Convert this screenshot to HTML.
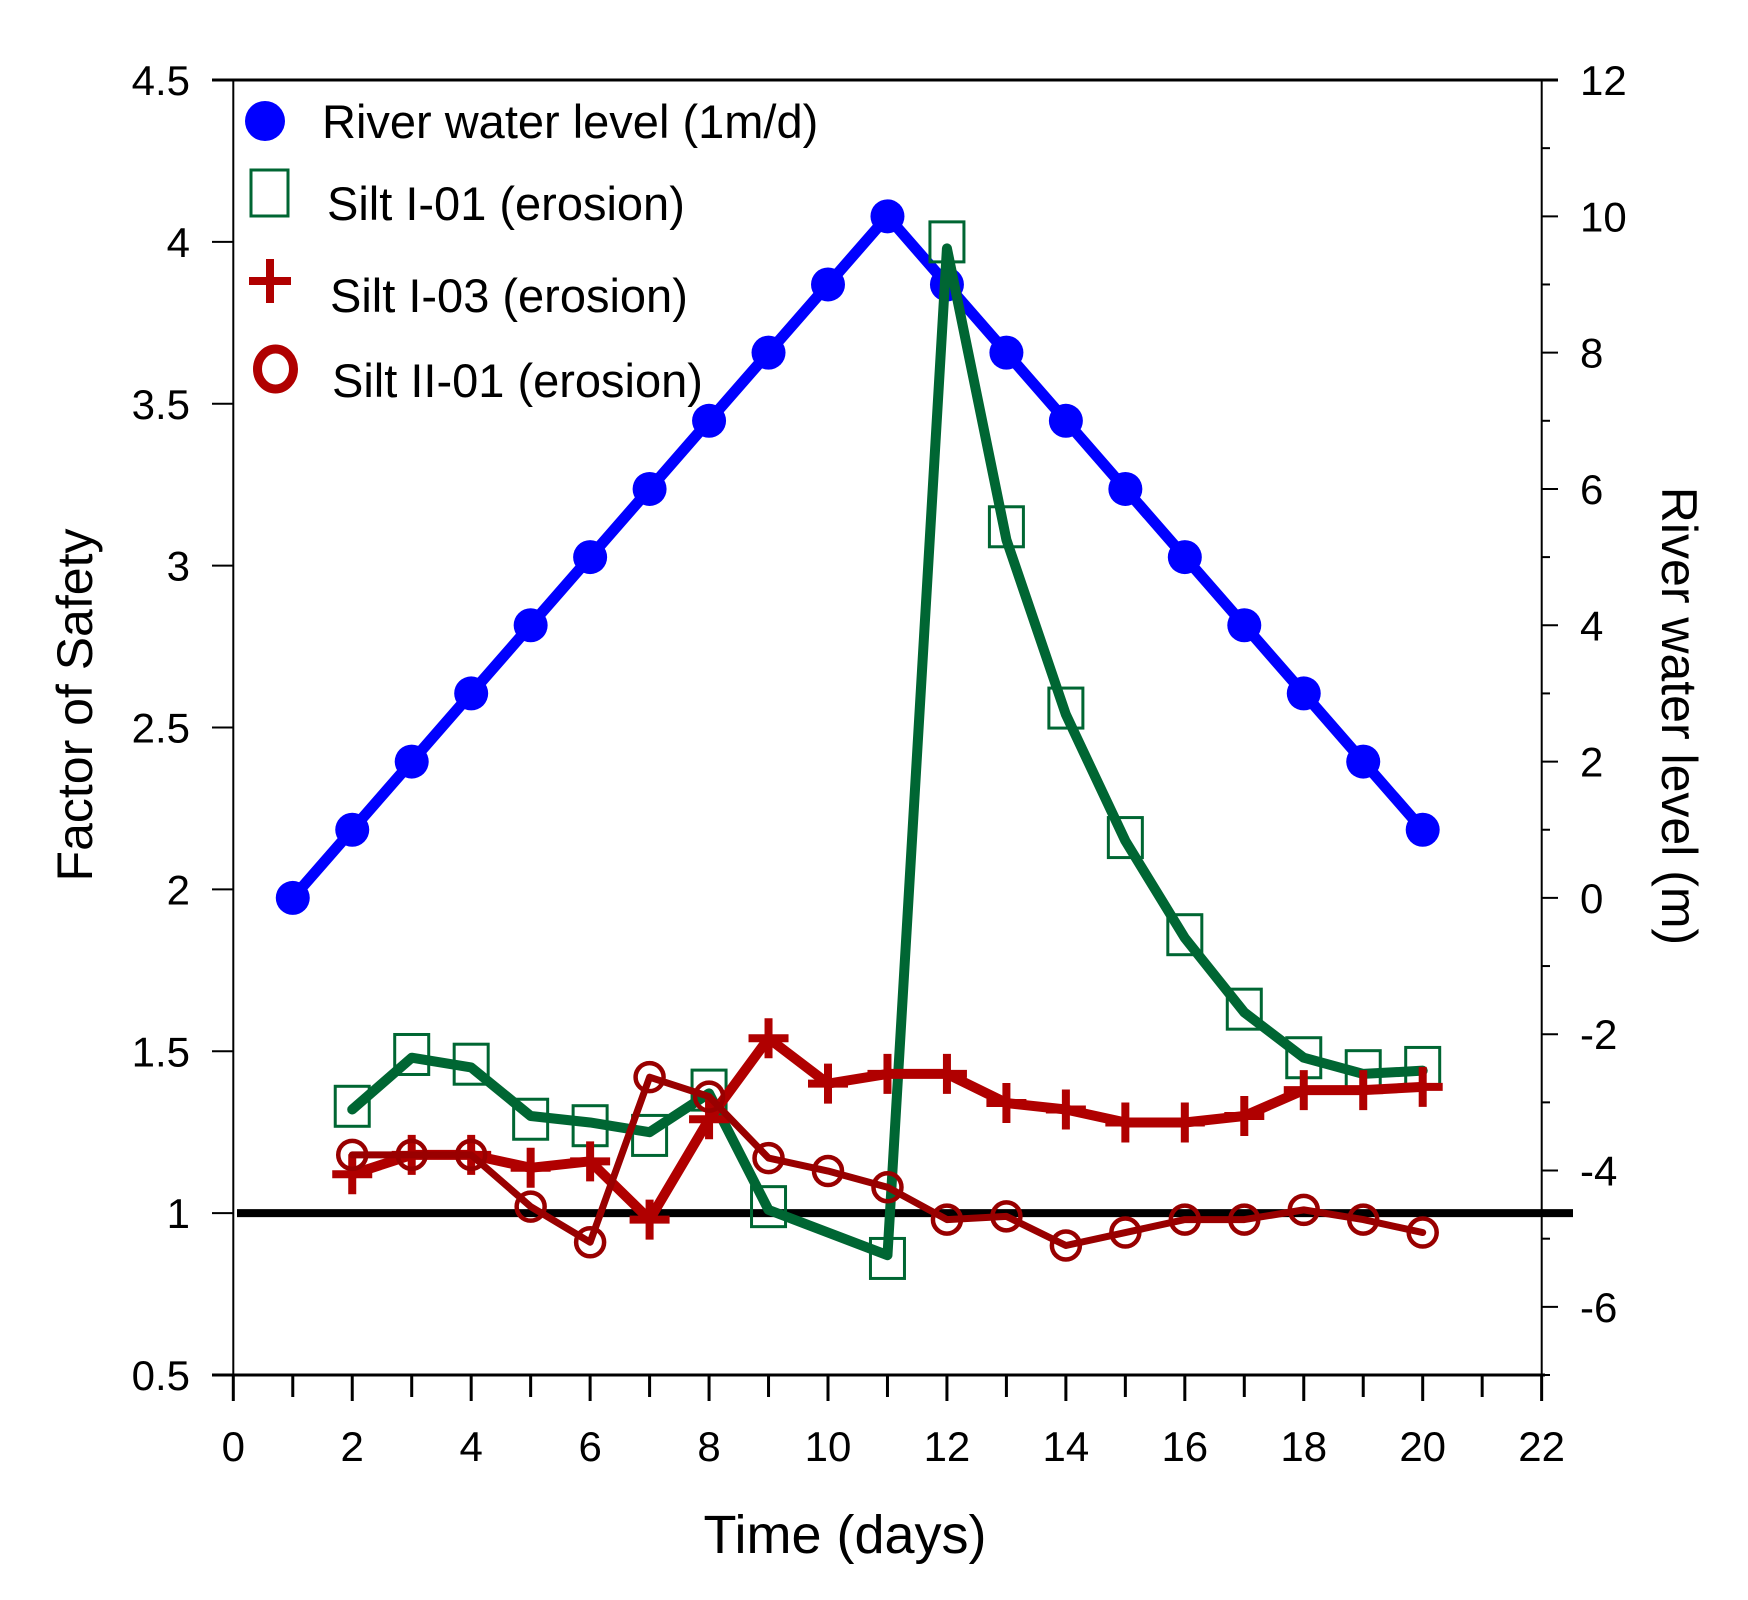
<!DOCTYPE html>
<html><head><meta charset="utf-8"><style>
body{margin:0;background:#fff}
svg{display:block}
text{font-family:"Liberation Sans",Arial,sans-serif;fill:#000}
</style></head><body>
<svg id="s" width="1748" height="1600" viewBox="0 0 1748 1600" xmlns="http://www.w3.org/2000/svg"></svg>
<script>
const X0=233.3,XS=59.47,YT=80,YB=1375,U=323.75;
const fx=d=>X0+d*XS, fy=v=>YB-(v-0.5)*U, fr=v=>YB-(v+7)*(YB-YT)/19;
let s='';
s+=`<line x1="212" y1="${YT}" x2="1558" y2="${YT}" stroke="#000" stroke-width="3"/>`;
s+=`<line x1="212" y1="${YB}" x2="1545" y2="${YB}" stroke="#000" stroke-width="3"/>`;
s+=`<line x1="${X0}" y1="${YT}" x2="${X0}" y2="${YB}" stroke="#000" stroke-width="2"/>`;
s+=`<line x1="1541.7" y1="${YT}" x2="1541.7" y2="${YB}" stroke="#000" stroke-width="2"/>`;
for(let i=0;i<=8;i++){let v=0.5+i*0.5,y=fy(v);
 s+=`<line x1="212" y1="${y}" x2="${X0}" y2="${y}" stroke="#000" stroke-width="2"/>`;
 s+=`<text x="190" y="${y+15}" font-size="42" text-anchor="end">${v}</text>`;}
for(let d=0;d<=22;d++){let x=fx(d);
 s+=`<line x1="${x}" y1="${YB}" x2="${x}" y2="${YB+(d%2?22:26)}" stroke="#000" stroke-width="3"/>`;
 if(d%2==0)s+=`<text x="${x}" y="${YB+86}" font-size="42" text-anchor="middle">${d}</text>`;}
for(let v=-7;v<=12;v++){let y=fr(v);
 let maj=(v%2==0);
 s+=`<line x1="1541.7" y1="${y}" x2="${maj?1558:1550}" y2="${y}" stroke="#000" stroke-width="2"/>`;
 if(maj)s+=`<text x="1580" y="${y+15}" font-size="42">${v}</text>`;}
s+=`<text x="845" y="1553" font-size="54" text-anchor="middle">Time (days)</text>`;
s+=`<text transform="translate(92,705) rotate(-90)" font-size="50" text-anchor="middle">Factor of Safety</text>`;
s+=`<text transform="translate(1662,716) rotate(90)" font-size="50" text-anchor="middle">River water level (m)</text>`;
s+=`<line x1="237" y1="${fy(1)}" x2="1573" y2="${fy(1)}" stroke="#000" stroke-width="8"/>`;
const pl=(pts,c,w)=>`<polyline points="${pts.map(p=>p.join(',')).join(' ')}" fill="none" stroke="${c}" stroke-width="${w}" stroke-linejoin="round" stroke-linecap="round"/>`;
const g=[[2,1.32],[3,1.48],[4,1.45],[5,1.30],[6,1.28],[7,1.25],[8,1.37],[9,1.01],[11,0.87],[12,3.98],[13,3.08],[14,2.54],[15,2.15],[16,1.85],[17,1.62],[18,1.48],[19,1.43],[20,1.44]];
const gm=[[2,1.33],[3,1.49],[4,1.46],[5,1.29],[6,1.27],[7,1.24],[8,1.38],[9,1.02],[11,0.86],[12,4.0],[13,3.12],[14,2.56],[15,2.16],[16,1.86],[17,1.63],[18,1.48],[19,1.44],[20,1.45]];
const r=[[2,1.12],[3,1.18],[4,1.18],[5,1.14],[6,1.16],[7,0.98],[8,1.29],[9,1.54],[10,1.40],[11,1.43],[12,1.43],[13,1.34],[14,1.32],[15,1.28],[16,1.28],[17,1.30],[18,1.38],[19,1.38],[20,1.39]];
const o=[[2,1.18],[3,1.18],[4,1.18],[5,1.02],[6,0.91],[7,1.42],[8,1.36],[9,1.17],[10,1.13],[11,1.08],[12,0.98],[13,0.99],[14,0.90],[15,0.94],[16,0.98],[17,0.98],[18,1.01],[19,0.98],[20,0.94]];
const b=[];for(let d=1;d<=20;d++)b.push([fx(d),fr(d<=11?d-1:21-d)]);
s+=pl(b,'#0000ff',11);
b.forEach(p=>s+=`<circle cx="${p[0]}" cy="${p[1]}" r="17" fill="#0000ff"/>`);
s+=pl(g.map(p=>[fx(p[0]),fy(p[1])]),'#006633',10);
gm.forEach(p=>{let x=fx(p[0]),y=fy(p[1]);s+=`<rect x="${x-17}" y="${y-20}" width="34" height="40" fill="none" stroke="#006633" stroke-width="3"/>`;});
s+=pl(r.map(p=>[fx(p[0]),fy(p[1])]),'#b00000',10);
r.forEach(p=>{let x=fx(p[0]),y=fy(p[1]);s+=`<path d="M${x-20} ${y}H${x+20}M${x} ${y-20}V${y+20}" stroke="#b00000" stroke-width="8"/>`;});
s+=pl(o.map(p=>[fx(p[0]),fy(p[1])]),'#990000',7);
o.forEach(p=>{let x=fx(p[0]),y=fy(p[1]);s+=`<circle cx="${x}" cy="${y}" r="14" fill="none" stroke="#990000" stroke-width="4.5"/>`;});
s+=`<circle cx="265" cy="121" r="20" fill="#0000ff"/>`;
s+=`<text x="322" y="138" font-size="47">River water level (1m/d)</text>`;
s+=`<rect x="251" y="170" width="37" height="46" fill="none" stroke="#006633" stroke-width="3"/>`;
s+=`<text x="327" y="220" font-size="47">Silt I-01 (erosion)</text>`;
s+=`<path d="M249 281H291M270 259V303" stroke="#b00000" stroke-width="8"/>`;
s+=`<text x="330" y="312" font-size="47">Silt I-03 (erosion)</text>`;
s+=`<ellipse cx="275.5" cy="369" rx="18" ry="20" fill="none" stroke="#b00000" stroke-width="9"/>`;
s+=`<text x="332" y="397" font-size="47">Silt II-01 (erosion)</text>`;
document.getElementById('s').innerHTML=s;
</script>
</body></html>
